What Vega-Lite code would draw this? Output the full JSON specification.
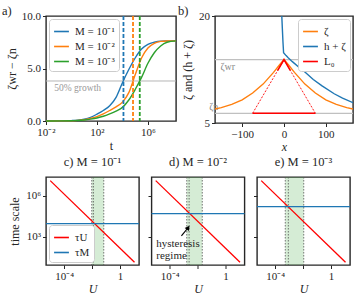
{
  "$schema": "https://vega.github.io/schema/vega-lite/v6.json",
  "padding": {"left": 1, "top": 3, "right": 0, "bottom": 0},
  "spacing": 1,
  "config": {
    "font": "Liberation Serif",
    "view": {"stroke": "#262626", "strokeWidth": 1.4},
    "axis": {"domain": false, "grid": false, "tickColor": "#262626", "tickSize": 3.5, "tickWidth": 1, "labelFont": "Liberation Serif", "labelFontSize": 11, "labelColor": "#262626", "titleFont": "Liberation Serif", "titleFontSize": 12, "titleFontWeight": "normal", "titleColor": "#262626", "labelPadding": 2, "labelFlush": false, "labelOverlap": false},
    "title": {"font": "Liberation Serif", "fontSize": 12.5, "fontWeight": "normal", "color": "#262626"},
    "legend": {"labelFont": "Liberation Serif", "labelFontSize": 11, "labelColor": "#262626", "fillColor": "white", "strokeColor": "#cccccc", "padding": 4, "cornerRadius": 3, "rowPadding": 1, "offset": 3, "symbolType": "stroke", "symbolStrokeWidth": 1.6, "symbolSize": 220, "labelOffset": 5}
  },
  "resolve": {"scale": {"color": "independent"}, "legend": {"color": "independent"}},
  "vconcat": [
    {
      "bounds": "flush",
      "spacing": 39,
      "resolve": {"scale": {"color": "independent"}, "legend": {"color": "independent"}},
      "hconcat": [
        {
          "width": 130,
          "height": 105,
          "title": {"text": "a)", "anchor": "start", "frame": "group", "dx": -44, "dy": 17, "offset": 0, "baseline": "alphabetic"},
          "layer": [
            {
              "data": {"values": [{"z": 3.81}]},
              "mark": {"type": "rule", "color": "#b5b5b5", "strokeWidth": 1},
              "encoding": {"y": {"field": "z", "type": "quantitative", "scale": {"domain": [0, 10], "nice": false, "zero": false}}}
            },
            {
              "data": {"values": [{"t": 0.045, "z": 3.81, "label": "50% growth"}]},
              "mark": {"type": "text", "align": "left", "baseline": "top", "dy": 2, "color": "#999999", "fontSize": 9.5, "font": "Liberation Serif"},
              "encoding": {
                "x": {"field": "t", "type": "quantitative", "scale": {"type": "log", "domain": [0.01, 160000000], "nice": false}},
                "y": {"field": "z", "type": "quantitative", "scale": {"domain": [0, 10], "nice": false, "zero": false}},
                "text": {"field": "label"}
              }
            },
            {
              "data": {"values": [
                {"t": 0.01, "z": 0, "M": "M = 10⁻¹"}, {"t": 0.1, "z": 0.01, "M": "M = 10⁻¹"}, {"t": 1, "z": 0.04, "M": "M = 10⁻¹"}, {"t": 3.162, "z": 0.08, "M": "M = 10⁻¹"}, {"t": 10, "z": 0.17, "M": "M = 10⁻¹"}, {"t": 31.62, "z": 0.35, "M": "M = 10⁻¹"}, {"t": 100, "z": 0.65, "M": "M = 10⁻¹"}, {"t": 316.2, "z": 1.0, "M": "M = 10⁻¹"}, {"t": 1000, "z": 1.45, "M": "M = 10⁻¹"}, {"t": 3162, "z": 2.25, "M": "M = 10⁻¹"}, {"t": 10000, "z": 3.65, "M": "M = 10⁻¹"}, {"t": 31623, "z": 4.9, "M": "M = 10⁻¹"}, {"t": 100000, "z": 6.0, "M": "M = 10⁻¹"}, {"t": 316228, "z": 6.85, "M": "M = 10⁻¹"}, {"t": 1000000, "z": 7.3, "M": "M = 10⁻¹"}, {"t": 3162278, "z": 7.5, "M": "M = 10⁻¹"}, {"t": 10000000, "z": 7.6, "M": "M = 10⁻¹"}, {"t": 31622777, "z": 7.62, "M": "M = 10⁻¹"}, {"t": 158489319, "z": 7.63, "M": "M = 10⁻¹"},
                {"t": 0.01, "z": 0, "M": "M = 10⁻²"}, {"t": 0.1, "z": 0.01, "M": "M = 10⁻²"}, {"t": 1, "z": 0.03, "M": "M = 10⁻²"}, {"t": 3.162, "z": 0.06, "M": "M = 10⁻²"}, {"t": 10, "z": 0.12, "M": "M = 10⁻²"}, {"t": 31.62, "z": 0.25, "M": "M = 10⁻²"}, {"t": 100, "z": 0.42, "M": "M = 10⁻²"}, {"t": 316.2, "z": 0.68, "M": "M = 10⁻²"}, {"t": 1000, "z": 1.0, "M": "M = 10⁻²"}, {"t": 3162, "z": 1.35, "M": "M = 10⁻²"}, {"t": 10000, "z": 1.8, "M": "M = 10⁻²"}, {"t": 31623, "z": 2.7, "M": "M = 10⁻²"}, {"t": 100000, "z": 4.4, "M": "M = 10⁻²"}, {"t": 316228, "z": 6.0, "M": "M = 10⁻²"}, {"t": 1000000, "z": 6.95, "M": "M = 10⁻²"}, {"t": 3162278, "z": 7.4, "M": "M = 10⁻²"}, {"t": 10000000, "z": 7.58, "M": "M = 10⁻²"}, {"t": 31622777, "z": 7.62, "M": "M = 10⁻²"}, {"t": 158489319, "z": 7.63, "M": "M = 10⁻²"},
                {"t": 0.01, "z": 0, "M": "M = 10⁻³"}, {"t": 0.1, "z": 0.01, "M": "M = 10⁻³"}, {"t": 1, "z": 0.03, "M": "M = 10⁻³"}, {"t": 3.162, "z": 0.05, "M": "M = 10⁻³"}, {"t": 10, "z": 0.1, "M": "M = 10⁻³"}, {"t": 31.62, "z": 0.18, "M": "M = 10⁻³"}, {"t": 100, "z": 0.29, "M": "M = 10⁻³"}, {"t": 316.2, "z": 0.45, "M": "M = 10⁻³"}, {"t": 1000, "z": 0.68, "M": "M = 10⁻³"}, {"t": 3162, "z": 0.95, "M": "M = 10⁻³"}, {"t": 10000, "z": 1.3, "M": "M = 10⁻³"}, {"t": 31623, "z": 2.0, "M": "M = 10⁻³"}, {"t": 100000, "z": 3.0, "M": "M = 10⁻³"}, {"t": 316228, "z": 4.15, "M": "M = 10⁻³"}, {"t": 1000000, "z": 5.5, "M": "M = 10⁻³"}, {"t": 3162278, "z": 6.5, "M": "M = 10⁻³"}, {"t": 10000000, "z": 7.15, "M": "M = 10⁻³"}, {"t": 31622777, "z": 7.5, "M": "M = 10⁻³"}, {"t": 158489319, "z": 7.63, "M": "M = 10⁻³"}
              ]},
              "mark": {"type": "line", "strokeWidth": 1.4, "interpolate": "monotone"},
              "encoding": {
                "x": {"field": "t", "type": "quantitative", "scale": {"type": "log", "domain": [0.01, 160000000], "nice": false}, "axis": {"values": [0.01, 100, 1000000], "labelExpr": "datum.value < 1 ? '10⁻²' : (datum.value < 1000 ? '10²' : '10⁶')", "title": "t", "titlePadding": 3}},
                "y": {"field": "z", "type": "quantitative", "scale": {"domain": [0, 10], "nice": false, "zero": false}, "axis": {"values": [0, 2.5, 5, 7.5, 10], "format": ".1f", "title": "ζwr − ζn", "titlePadding": 3}},
                "color": {"field": "M", "type": "nominal", "scale": {"domain": ["M = 10⁻¹", "M = 10⁻²", "M = 10⁻³"], "range": ["#1f77b4", "#ff7f0e", "#2ca02c"]}, "legend": {"title": null, "orient": "top-left"}}
              }
            },
            {
              "data": {"values": [{"t": 12023, "M": "M = 10⁻¹"}, {"t": 67608, "M": "M = 10⁻²"}, {"t": 229087, "M": "M = 10⁻³"}]},
              "mark": {"type": "rule", "strokeWidth": 1.8, "strokeDash": [4, 2]},
              "encoding": {
                "x": {"field": "t", "type": "quantitative", "scale": {"type": "log", "domain": [0.01, 160000000], "nice": false}},
                "color": {"field": "M", "type": "nominal", "scale": {"domain": ["M = 10⁻¹", "M = 10⁻²", "M = 10⁻³"], "range": ["#1f77b4", "#ff7f0e", "#2ca02c"]}, "legend": null}
              }
            }
          ]
        },
        {
          "width": 138,
          "height": 107,
          "title": {"text": "b)", "anchor": "start", "frame": "group", "dx": -37, "dy": 17, "offset": 0, "baseline": "alphabetic"},
          "layer": [
            {
              "data": {"values": [{"v": 13.88}, {"v": 6.36}]},
              "mark": {"type": "rule", "color": "#c0c0c0", "strokeWidth": 1.2},
              "encoding": {"y": {"field": "v", "type": "quantitative", "scale": {"domain": [5, 20], "nice": false, "zero": false}}}
            },
            {
              "data": {"values": [{"x": -152, "v": 13.88, "label": "ζwr"}]},
              "mark": {"type": "text", "align": "left", "baseline": "top", "dy": 2, "color": "#888888", "fontSize": 10, "font": "Liberation Serif"},
              "encoding": {
                "x": {"field": "x", "type": "quantitative", "scale": {"domain": [-165, 165], "nice": false, "zero": false}},
                "y": {"field": "v", "type": "quantitative", "scale": {"domain": [5, 20], "nice": false, "zero": false}},
                "text": {"field": "label"}
              }
            },
            {
              "data": {"values": [{"x": -179, "v": 6.36, "label": "ζn"}]},
              "mark": {"type": "text", "align": "left", "baseline": "bottom", "dy": -1, "color": "#888888", "fontSize": 10, "font": "Liberation Serif"},
              "encoding": {
                "x": {"field": "x", "type": "quantitative", "scale": {"domain": [-165, 165], "nice": false, "zero": false}},
                "y": {"field": "v", "type": "quantitative", "scale": {"domain": [5, 20], "nice": false, "zero": false}},
                "text": {"field": "label"}
              }
            },
            {
              "data": {"values": [
                {"x": -165, "v": 6.95, "curve": "ζ"}, {"x": -150, "v": 7.15, "curve": "ζ"}, {"x": -125, "v": 7.6, "curve": "ζ"}, {"x": -100, "v": 8.25, "curve": "ζ"}, {"x": -75, "v": 9.2, "curve": "ζ"}, {"x": -50, "v": 10.45, "curve": "ζ"}, {"x": -25, "v": 12.1, "curve": "ζ"}, {"x": -10, "v": 13.2, "curve": "ζ"}, {"x": 0, "v": 13.88, "curve": "ζ"}, {"x": 10, "v": 13.2, "curve": "ζ"}, {"x": 25, "v": 12.1, "curve": "ζ"}, {"x": 50, "v": 10.45, "curve": "ζ"}, {"x": 75, "v": 9.2, "curve": "ζ"}, {"x": 100, "v": 8.25, "curve": "ζ"}, {"x": 125, "v": 7.6, "curve": "ζ"}, {"x": 150, "v": 7.15, "curve": "ζ"}, {"x": 165, "v": 6.95, "curve": "ζ"},
                {"x": -5.5, "v": 20.3, "curve": "h + ζ"}, {"x": -4, "v": 18.3, "curve": "h + ζ"}, {"x": -2.5, "v": 16.4, "curve": "h + ζ"}, {"x": -1, "v": 14.85, "curve": "h + ζ"}, {"x": 5, "v": 14.45, "curve": "h + ζ"}, {"x": 10, "v": 14.15, "curve": "h + ζ"}, {"x": 20, "v": 13.6, "curve": "h + ζ"}, {"x": 35, "v": 12.85, "curve": "h + ζ"}, {"x": 52, "v": 12.05, "curve": "h + ζ"}, {"x": 70, "v": 11.1, "curve": "h + ζ"}, {"x": 91, "v": 10.2, "curve": "h + ζ"}, {"x": 120, "v": 9.1, "curve": "h + ζ"}, {"x": 140, "v": 8.5, "curve": "h + ζ"}, {"x": 165, "v": 7.85, "curve": "h + ζ"}
              ]},
              "mark": {"type": "line", "strokeWidth": 1.4, "clip": true},
              "encoding": {
                "x": {"field": "x", "type": "quantitative", "scale": {"domain": [-165, 165], "nice": false, "zero": false}, "axis": {"values": [-100, 0, 100], "labelExpr": "datum.value < 0 ? '−' + abs(datum.value) : datum.label", "title": "x", "titleFontStyle": "italic", "titlePadding": 2}},
                "y": {"field": "v", "type": "quantitative", "scale": {"domain": [5, 20], "nice": false, "zero": false}, "axis": {"values": [5, 10, 15, 20], "title": "ζ and (h + ζ)", "titlePadding": 4}},
                "color": {"field": "curve", "type": "nominal", "scale": {"domain": ["ζ", "h + ζ", "L₀"], "range": ["#ff7f0e", "#1f77b4", "#ff0000"]}, "legend": {"title": null, "orient": "top-right"}}
              }
            },
            {
              "data": {"values": [
                {"x": -75, "v": 6.36, "seg": "base", "curve": "L₀"}, {"x": 75, "v": 6.36, "seg": "base", "curve": "L₀"},
                {"x": -15, "v": 12.38, "seg": "cap", "curve": "L₀"}, {"x": 0, "v": 13.88, "seg": "cap", "curve": "L₀"}, {"x": 15, "v": 12.38, "seg": "cap", "curve": "L₀"}
              ]},
              "mark": {"type": "line", "strokeWidth": 1.6},
              "encoding": {
                "x": {"field": "x", "type": "quantitative", "scale": {"domain": [-165, 165], "nice": false, "zero": false}},
                "y": {"field": "v", "type": "quantitative", "scale": {"domain": [5, 20], "nice": false, "zero": false}},
                "detail": {"field": "seg"},
                "color": {"field": "curve", "type": "nominal", "scale": {"domain": ["ζ", "h + ζ", "L₀"], "range": ["#ff7f0e", "#1f77b4", "#ff0000"]}, "legend": null}
              }
            },
            {
              "data": {"values": [
                {"x": -75, "v": 6.36, "curve": "L₀"}, {"x": 0, "v": 13.88, "curve": "L₀"}, {"x": 75, "v": 6.36, "curve": "L₀"}
              ]},
              "mark": {"type": "line", "strokeWidth": 0.9, "strokeDash": [2, 1.5]},
              "encoding": {
                "x": {"field": "x", "type": "quantitative", "scale": {"domain": [-165, 165], "nice": false, "zero": false}},
                "y": {"field": "v", "type": "quantitative", "scale": {"domain": [5, 20], "nice": false, "zero": false}},
                "color": {"field": "curve", "type": "nominal", "scale": {"domain": ["ζ", "h + ζ", "L₀"], "range": ["#ff7f0e", "#1f77b4", "#ff0000"]}, "legend": null}
              }
            }
          ]
        }
      ]
    },
    {
      "bounds": "flush",
      "spacing": 12.5,
      "resolve": {"scale": {"color": "independent"}, "legend": {"color": "independent"}},
      "hconcat": [
        {
          "width": 93,
          "height": 88,
          "title": {"text": "c) M = 10⁻¹", "offset": 8},
          "layer": [
            {
              "data": {"values": [{"u1": 0.00933, "u2": 0.0676}]},
              "mark": {"type": "rect", "color": "#2ca02c", "opacity": 0.2},
              "encoding": {
                "x": {"field": "u1", "type": "quantitative", "scale": {"type": "log", "domain": [0.000005, 22.4], "nice": false}},
                "x2": {"field": "u2"}
              }
            },
            {
              "data": {"values": [{"u": 0.00933}, {"u": 0.0123}, {"u": 0.0676}]},
              "mark": {"type": "rule", "color": "#555555", "strokeWidth": 0.8, "strokeDash": [1.5, 1.5]},
              "encoding": {"x": {"field": "u", "type": "quantitative", "scale": {"type": "log", "domain": [0.000005, 22.4], "nice": false}}}
            },
            {
              "data": {"values": [{"u": 0.00001, "tau": 13490000, "s": "τU"}, {"u": 10.7, "tau": 12.6, "s": "τU"}]},
              "mark": {"type": "line", "strokeWidth": 1.3, "clip": true},
              "encoding": {
                "x": {"field": "u", "type": "quantitative", "scale": {"type": "log", "domain": [0.000005, 22.4], "nice": false}, "axis": {"values": [0.0001, 0.01, 1], "labelExpr": "datum.value < 0.001 ? '10⁻⁴' : (datum.value > 0.5 ? '1' : '')", "title": "U", "titleFontStyle": "italic", "titlePadding": 2}},
                "y": {"field": "tau", "type": "quantitative", "scale": {"type": "log", "domain": [7.94, 25100000], "nice": false}, "axis": {"values": [1000, 1000000], "labelExpr": "datum.value > 100000 ? '10⁶' : '10³'", "title": "time scale", "titlePadding": 4}},
                "color": {"field": "s", "type": "nominal", "scale": {"domain": ["τU", "τM"], "range": ["#ff0000", "#1f77b4"]}, "legend": {"title": null, "orient": "bottom-left"}}
              }
            },
            {
              "data": {"values": [{"tau": 9120, "s": "τM"}]},
              "mark": {"type": "rule", "strokeWidth": 1.3},
              "encoding": {
                "y": {"field": "tau", "type": "quantitative", "scale": {"type": "log", "domain": [7.94, 25100000], "nice": false}},
                "color": {"field": "s", "type": "nominal", "scale": {"domain": ["τU", "τM"], "range": ["#ff0000", "#1f77b4"]}}
              }
            }
          ]
        },
        {
          "width": 93,
          "height": 88,
          "title": {"text": "d) M = 10⁻²", "offset": 8},
          "layer": [
            {
              "data": {"values": [{"u1": 0.00166, "u2": 0.0214}]},
              "mark": {"type": "rect", "color": "#2ca02c", "opacity": 0.2},
              "encoding": {
                "x": {"field": "u1", "type": "quantitative", "scale": {"type": "log", "domain": [0.000005, 22.4], "nice": false}},
                "x2": {"field": "u2"}
              }
            },
            {
              "data": {"values": [{"u": 0.00166}, {"u": 0.00245}, {"u": 0.0214}]},
              "mark": {"type": "rule", "color": "#555555", "strokeWidth": 0.8, "strokeDash": [1.5, 1.5]},
              "encoding": {"x": {"field": "u", "type": "quantitative", "scale": {"type": "log", "domain": [0.000005, 22.4], "nice": false}}}
            },
            {
              "data": {"values": [{"u": 0.00001, "tau": 13490000, "s": "τU"}, {"u": 10.7, "tau": 12.6, "s": "τU"}]},
              "mark": {"type": "line", "strokeWidth": 1.3, "clip": true},
              "encoding": {
                "x": {"field": "u", "type": "quantitative", "scale": {"type": "log", "domain": [0.000005, 22.4], "nice": false}, "axis": {"values": [0.0001, 0.01, 1], "labelExpr": "datum.value < 0.001 ? '10⁻⁴' : (datum.value > 0.5 ? '1' : '')", "title": "U", "titleFontStyle": "italic", "titlePadding": 2}},
                "y": {"field": "tau", "type": "quantitative", "scale": {"type": "log", "domain": [7.94, 25100000], "nice": false}, "axis": {"values": [1000, 1000000], "labels": false, "title": null}},
                "color": {"field": "s", "type": "nominal", "scale": {"domain": ["τU", "τM"], "range": ["#ff0000", "#1f77b4"]}, "legend": null}
              }
            },
            {
              "data": {"values": [{"tau": 50119, "s": "τM"}]},
              "mark": {"type": "rule", "strokeWidth": 1.3},
              "encoding": {
                "y": {"field": "tau", "type": "quantitative", "scale": {"type": "log", "domain": [7.94, 25100000], "nice": false}},
                "color": {"field": "s", "type": "nominal", "scale": {"domain": ["τU", "τM"], "range": ["#ff0000", "#1f77b4"]}, "legend": null}
              }
            },
            {
              "data": {"values": [{"u": 0.000011, "tau": 800, "label": "hysteresis\nregime"}]},
              "mark": {"type": "text", "align": "left", "baseline": "top", "lineBreak": "\n", "lineHeight": 12, "fontSize": 11, "font": "Liberation Serif", "color": "#262626"},
              "encoding": {
                "x": {"field": "u", "type": "quantitative", "scale": {"type": "log", "domain": [0.000005, 22.4], "nice": false}},
                "y": {"field": "tau", "type": "quantitative", "scale": {"type": "log", "domain": [7.94, 25100000], "nice": false}},
                "text": {"field": "label"}
              }
            },
            {
              "data": {"values": [{"u": 0.00069, "tau": 1122, "u2": 0.00209, "tau2": 4570}]},
              "mark": {"type": "rule", "color": "black", "strokeWidth": 1.1},
              "encoding": {
                "x": {"field": "u", "type": "quantitative", "scale": {"type": "log", "domain": [0.000005, 22.4], "nice": false}},
                "y": {"field": "tau", "type": "quantitative", "scale": {"type": "log", "domain": [7.94, 25100000], "nice": false}},
                "x2": {"field": "u2"},
                "y2": {"field": "tau2"}
              }
            },
            {
              "data": {"values": [{"u2": 0.00209, "tau2": 4570}]},
              "mark": {"type": "point", "shape": "triangle-up", "angle": 36, "size": 28, "filled": true, "color": "black", "opacity": 1},
              "encoding": {
                "x": {"field": "u2", "type": "quantitative", "scale": {"type": "log", "domain": [0.000005, 22.4], "nice": false}},
                "y": {"field": "tau2", "type": "quantitative", "scale": {"type": "log", "domain": [7.94, 25100000], "nice": false}}
              }
            }
          ]
        },
        {
          "width": 93,
          "height": 88,
          "title": {"text": "e) M = 10⁻³", "offset": 8},
          "layer": [
            {
              "data": {"values": [{"u1": 0.000525, "u2": 0.011}]},
              "mark": {"type": "rect", "color": "#2ca02c", "opacity": 0.2},
              "encoding": {
                "x": {"field": "u1", "type": "quantitative", "scale": {"type": "log", "domain": [0.000005, 22.4], "nice": false}},
                "x2": {"field": "u2"}
              }
            },
            {
              "data": {"values": [{"u": 0.000525}, {"u": 0.000871}, {"u": 0.011}]},
              "mark": {"type": "rule", "color": "#555555", "strokeWidth": 0.8, "strokeDash": [1.5, 1.5]},
              "encoding": {"x": {"field": "u", "type": "quantitative", "scale": {"type": "log", "domain": [0.000005, 22.4], "nice": false}}}
            },
            {
              "data": {"values": [{"u": 0.00001, "tau": 13490000, "s": "τU"}, {"u": 10.7, "tau": 12.6, "s": "τU"}]},
              "mark": {"type": "line", "strokeWidth": 1.3, "clip": true},
              "encoding": {
                "x": {"field": "u", "type": "quantitative", "scale": {"type": "log", "domain": [0.000005, 22.4], "nice": false}, "axis": {"values": [0.0001, 0.01, 1], "labelExpr": "datum.value < 0.001 ? '10⁻⁴' : (datum.value > 0.5 ? '1' : '')", "title": "U", "titleFontStyle": "italic", "titlePadding": 2}},
                "y": {"field": "tau", "type": "quantitative", "scale": {"type": "log", "domain": [7.94, 25100000], "nice": false}, "axis": {"values": [1000, 1000000], "labels": false, "title": null}},
                "color": {"field": "s", "type": "nominal", "scale": {"domain": ["τU", "τM"], "range": ["#ff0000", "#1f77b4"]}, "legend": null}
              }
            },
            {
              "data": {"values": [{"tau": 162181, "s": "τM"}]},
              "mark": {"type": "rule", "strokeWidth": 1.3},
              "encoding": {
                "y": {"field": "tau", "type": "quantitative", "scale": {"type": "log", "domain": [7.94, 25100000], "nice": false}},
                "color": {"field": "s", "type": "nominal", "scale": {"domain": ["τU", "τM"], "range": ["#ff0000", "#1f77b4"]}, "legend": null}
              }
            }
          ]
        }
      ]
    }
  ]
}
